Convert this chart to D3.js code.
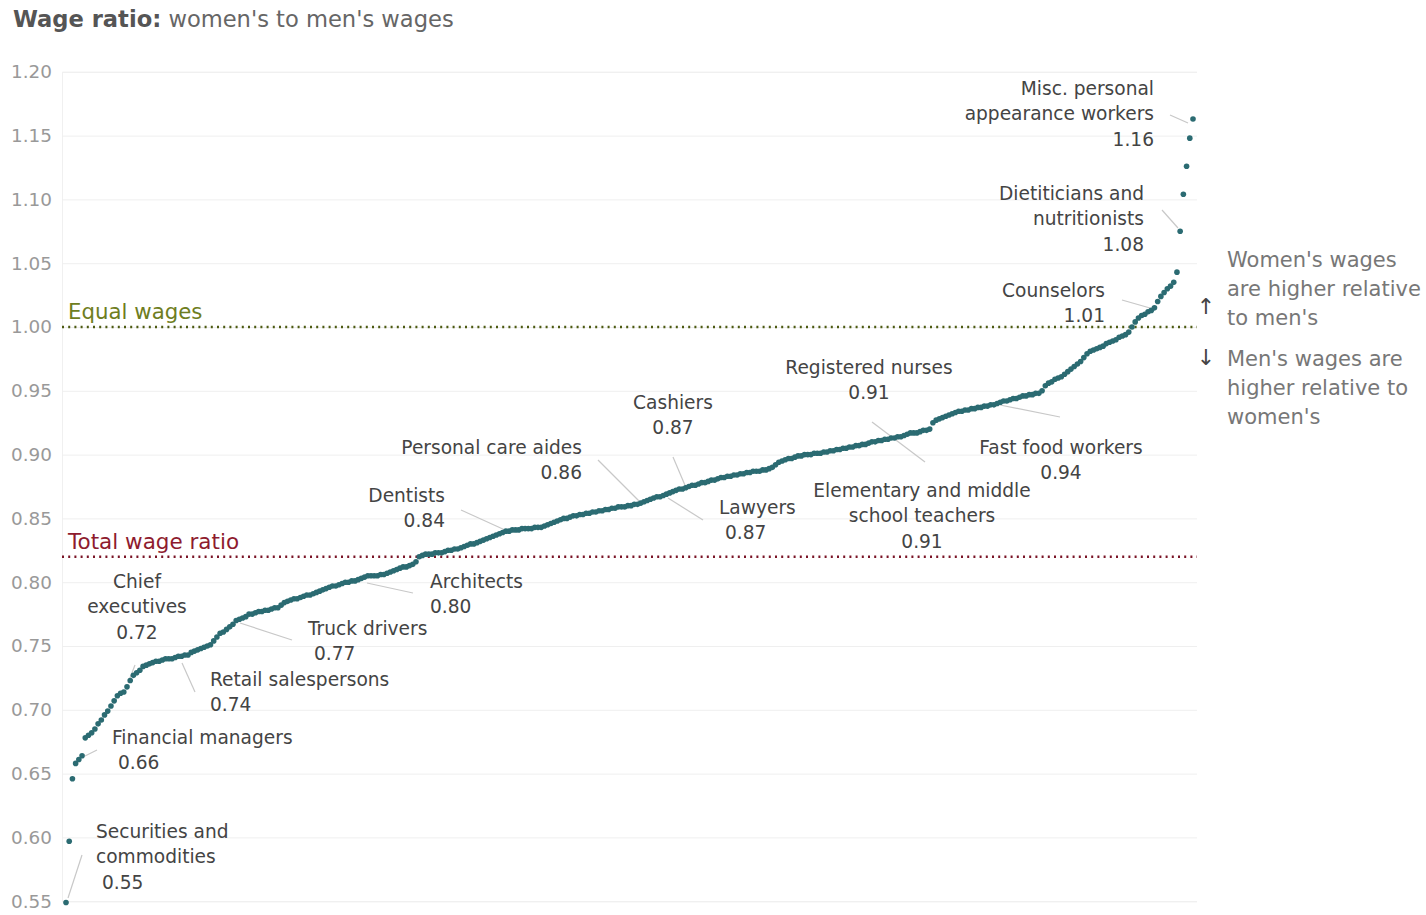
<!DOCTYPE html>
<html lang="en">
<head>
<meta charset="UTF-8">
<title>Wage ratio</title>
<style>
  body { margin: 0; background: #fff; }
  svg { display: block; font-family: "DejaVu Sans", Verdana, sans-serif; }
</style>
</head>
<body>
<svg id="chart" width="1426" height="915"></svg>
<script src="https://d3js.org/d3.v7.min.js"></script>
<script>
// women's to men's wage ratio, one value per occupation, sorted ascending
const ratios = [
  0.549, 0.597, 0.646, 0.658, 0.661, 0.664, 0.678, 0.680, 0.682, 0.685,
  0.689, 0.692, 0.696, 0.699, 0.703, 0.707, 0.711, 0.713, 0.714, 0.718,
  0.723, 0.727, 0.729, 0.731, 0.734, 0.735, 0.736, 0.737, 0.738, 0.738,
  0.739, 0.740, 0.740, 0.740, 0.741, 0.742, 0.742, 0.743, 0.743, 0.745,
  0.746, 0.747, 0.748, 0.749, 0.750, 0.751, 0.754, 0.757, 0.760, 0.761,
  0.763, 0.765, 0.767, 0.770, 0.771, 0.772, 0.773, 0.775, 0.775, 0.776,
  0.777, 0.777, 0.778, 0.778, 0.779, 0.780, 0.780, 0.782, 0.784, 0.785,
  0.786, 0.787, 0.787, 0.788, 0.789, 0.790, 0.790, 0.791, 0.792, 0.793,
  0.794, 0.795, 0.796, 0.797, 0.797, 0.798, 0.799, 0.800, 0.800, 0.801,
  0.801, 0.802, 0.803, 0.804, 0.805, 0.805, 0.805, 0.805, 0.806, 0.806,
  0.807, 0.808, 0.809, 0.810, 0.811, 0.812, 0.812, 0.813, 0.814, 0.816,
  0.820, 0.821, 0.822, 0.822, 0.822, 0.823, 0.823, 0.823, 0.824, 0.825,
  0.825, 0.826, 0.826, 0.827, 0.828, 0.829, 0.830, 0.830, 0.831, 0.832,
  0.833, 0.834, 0.835, 0.836, 0.837, 0.838, 0.839, 0.840, 0.840, 0.841,
  0.841, 0.841, 0.842, 0.842, 0.842, 0.842, 0.843, 0.843, 0.843, 0.844,
  0.845, 0.846, 0.847, 0.848, 0.849, 0.850, 0.850, 0.851, 0.852, 0.852,
  0.853, 0.853, 0.854, 0.854, 0.855, 0.855, 0.856, 0.856, 0.857, 0.857,
  0.858, 0.858, 0.859, 0.859, 0.859, 0.860, 0.860, 0.861, 0.861, 0.862,
  0.863, 0.864, 0.865, 0.866, 0.867, 0.867, 0.868, 0.869, 0.870, 0.871,
  0.872, 0.873, 0.873, 0.874, 0.875, 0.876, 0.876, 0.877, 0.878, 0.878,
  0.879, 0.880, 0.880, 0.881, 0.882, 0.882, 0.883, 0.883, 0.884, 0.884,
  0.885, 0.885, 0.886, 0.886, 0.887, 0.887, 0.887, 0.888, 0.888, 0.889,
  0.890, 0.892, 0.894, 0.895, 0.896, 0.897, 0.897, 0.898, 0.899, 0.899,
  0.900, 0.900, 0.900, 0.901, 0.901, 0.901, 0.902, 0.902, 0.903, 0.903,
  0.904, 0.904, 0.905, 0.905, 0.906, 0.906, 0.907, 0.907, 0.908, 0.908,
  0.909, 0.910, 0.910, 0.911, 0.911, 0.912, 0.912, 0.913, 0.913, 0.914,
  0.914, 0.915, 0.916, 0.917, 0.917, 0.917, 0.918, 0.919, 0.919, 0.920,
  0.925, 0.927, 0.928, 0.929, 0.930, 0.931, 0.932, 0.933, 0.934, 0.934,
  0.935, 0.935, 0.936, 0.936, 0.937, 0.937, 0.938, 0.938, 0.939, 0.939,
  0.940, 0.941, 0.942, 0.942, 0.943, 0.944, 0.944, 0.945, 0.946, 0.946,
  0.947, 0.947, 0.948, 0.948, 0.950, 0.954, 0.956, 0.957, 0.959, 0.960,
  0.961, 0.963, 0.965, 0.967, 0.969, 0.971, 0.973, 0.976, 0.979, 0.981,
  0.982, 0.983, 0.984, 0.985, 0.987, 0.988, 0.989, 0.990, 0.992, 0.993,
  0.994, 0.996, 1.000, 1.004, 1.007, 1.009, 1.010, 1.012, 1.013, 1.015,
  1.020, 1.024, 1.027, 1.030, 1.032, 1.035, 1.043, 1.075, 1.104, 1.126,
  1.148, 1.163
];

const yTicks = [0.55, 0.60, 0.65, 0.70, 0.75, 0.80, 0.85, 0.90, 0.95, 1.00, 1.05, 1.10, 1.15, 1.20];
const equalWages = 1.00;
const totalWageRatio = 0.82;

// labelled occupations: text lines, label anchor, leader line
const callouts = [
  { lines: ["Misc. personal", "appearance workers", "1.16"], x: 1154, y: 88, anchor: "end", leader: [1170, 115, 1188, 123] },
  { lines: ["Dietiticians and", "nutritionists", "1.08"], x: 1144, y: 193, anchor: "end", leader: [1162, 210, 1178, 228] },
  { lines: ["Counselors", "1.01"], x: 1105, y: 290, anchor: "end", leader: [1122, 300, 1150, 308] },
  { lines: ["Registered nurses", "0.91"], x: 869, y: 367, anchor: "middle", leader: [872, 422, 925, 462] },
  { lines: ["Fast food workers", "0.94"], x: 1061, y: 447, anchor: "middle", leader: [1000, 405, 1060, 417] },
  { lines: ["Elementary and middle", "school teachers", "0.91"], x: 922, y: 490, anchor: "middle", leader: null },
  { lines: ["Cashiers", "0.87"], x: 673, y: 402, anchor: "middle", leader: [673, 457, 687, 490] },
  { lines: ["Lawyers", " 0.87"], x: 719, y: 507, anchor: "start", leader: [668, 498, 703, 520] },
  { lines: ["Personal care aides", "0.86"], x: 582, y: 447, anchor: "end", leader: [598, 460, 640, 502] },
  { lines: ["Dentists", "0.84"], x: 445, y: 495, anchor: "end", leader: [461, 510, 505, 530] },
  { lines: ["Architects", "0.80"], x: 430, y: 581, anchor: "start", leader: [367, 583, 413, 593] },
  { lines: ["Truck drivers", " 0.77"], x: 308, y: 628, anchor: "start", leader: [240, 623, 292, 640] },
  { lines: ["Chief", "executives", "0.72"], x: 137, y: 581, anchor: "middle", leader: [135, 665, 128, 683] },
  { lines: ["Retail salespersons", "0.74"], x: 210, y: 679, anchor: "start", leader: [182, 663, 195, 692] },
  { lines: ["Financial managers", " 0.66"], x: 112, y: 737, anchor: "start", leader: [97, 750, 85, 756] },
  { lines: ["Securities and", "commodities", " 0.55"], x: 96, y: 831, anchor: "start", leader: [82, 855, 68, 898] }
];

const svg = d3.select("#chart");

const x = d3.scaleLinear().domain([0, ratios.length - 1]).range([66, 1193]);
const y = d3.scaleLinear().domain([0.55, 1.20]).range([901.2, 71.8]);

// title
const title = svg.append("text").attr("x", 13).attr("y", 27)
  .attr("font-size", 22.6).attr("fill", "#666");
title.append("tspan").attr("font-weight", "bold").attr("fill", "#555").text("Wage ratio:");
title.append("tspan").text(" women's to men's wages");

// y axis with gridlines
const yAxis = d3.axisLeft(y).tickValues(yTicks).tickFormat(d3.format(".2f")).tickSize(-1135).tickPadding(10);
const gAxis = svg.append("g").attr("transform", "translate(62,0)").call(yAxis);
gAxis.select(".domain").attr("stroke", "#f0f0f0");
gAxis.selectAll(".tick line").attr("stroke", "#efefef");
gAxis.selectAll(".tick text").attr("fill", "#999").attr("font-size", 18.4)
  .attr("font-family", "DejaVu Sans, sans-serif");

// reference lines
svg.append("line").attr("x1", 62).attr("x2", 1197)
  .attr("y1", y(equalWages)).attr("y2", y(equalWages))
  .attr("stroke", "#4d5a12").attr("stroke-width", 2.4).attr("stroke-dasharray", "2,4.2");
svg.append("text").attr("x", 68).attr("y", y(equalWages) - 15).attr("dy", "0.35em")
  .attr("font-size", 21.3).attr("fill", "#6e7d21").text("Equal wages");

svg.append("line").attr("x1", 62).attr("x2", 1197)
  .attr("y1", y(totalWageRatio)).attr("y2", y(totalWageRatio))
  .attr("stroke", "#7a1426").attr("stroke-width", 2.4).attr("stroke-dasharray", "2,4.2");
svg.append("text").attr("x", 68).attr("y", y(totalWageRatio) - 15).attr("dy", "0.35em")
  .attr("font-size", 21.5).attr("fill", "#8e1b2e").text("Total wage ratio");

// leader lines
svg.append("g").selectAll("line")
  .data(callouts.filter(d => d.leader))
  .join("line")
  .attr("x1", d => d.leader[0]).attr("y1", d => d.leader[1])
  .attr("x2", d => d.leader[2]).attr("y2", d => d.leader[3])
  .attr("stroke", "#c8c8c8").attr("stroke-width", 1.2);

// dots
svg.append("g").selectAll("circle")
  .data(ratios)
  .join("circle")
  .attr("cx", (d, i) => x(i))
  .attr("cy", d => y(d))
  .attr("r", 2.8)
  .attr("fill", "#2b6b72");

// callout labels
const lab = svg.append("g").selectAll("text")
  .data(callouts)
  .join("text")
  .attr("x", d => d.x).attr("y", d => d.y)
  .attr("text-anchor", d => d.anchor)
  .attr("font-size", 18.6).attr("fill", "#444")
  .style("white-space", "pre");
lab.selectAll("tspan")
  .data(d => d.lines.map(t => ({ t, x: d.x })))
  .join("tspan")
  .attr("x", d => d.x)
  .attr("dy", (d, i) => i === 0 ? "0.35em" : 25.5)
  .text(d => d.t);

// right-hand note
const note = svg.append("g").attr("font-size", 21).attr("fill", "#777");
note.append("text").attr("x", 1206).attr("y", 306).attr("dy", "0.35em")
  .attr("text-anchor", "middle").attr("fill", "#444").attr("font-size", 22).text("\u2191");
note.append("text").attr("x", 1206).attr("y", 357).attr("dy", "0.35em")
  .attr("text-anchor", "middle").attr("fill", "#444").attr("font-size", 22).text("\u2193");
const up = note.append("text").attr("x", 1227).attr("y", 260);
["Women's wages", "are higher relative", "to men's"].forEach((t, i) =>
  up.append("tspan").attr("x", 1227).attr("dy", i === 0 ? "0.35em" : 29).text(t));
const down = note.append("text").attr("x", 1227).attr("y", 359);
["Men's wages are", "higher relative to", "women's"].forEach((t, i) =>
  down.append("tspan").attr("x", 1227).attr("dy", i === 0 ? "0.35em" : 29).text(t));
</script>
</body>
</html>
